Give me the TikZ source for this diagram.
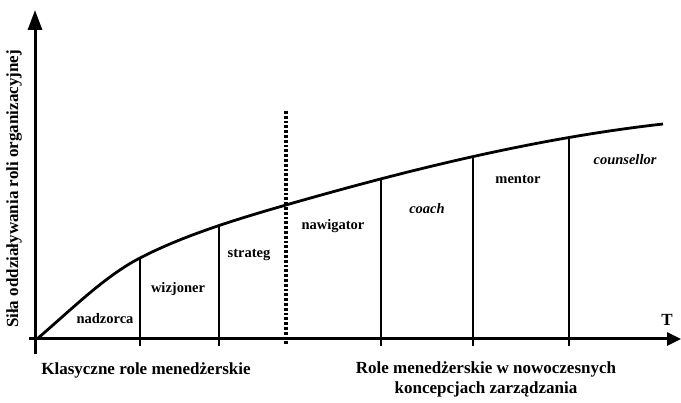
\documentclass[tikz,border=0pt]{standalone}
\usepackage{fontspec}
\setmainfont{Liberation Serif}
\usetikzlibrary{arrows.meta}
\tikzset{
  axis/.style={line width=3pt},
  curveline/.style={line width=2.8pt, line join=round},
  divider/.style={line width=1.9pt},
  sep/.style={line width=3.6pt, dash pattern=on 2.8pt off 2pt},
  role/.style={font=\fontsize{14.5}{16}\selectfont\bfseries, inner sep=0pt},
  irole/.style={font=\fontsize{14.5}{16}\selectfont\bfseries\itshape, inner sep=0pt},
  caption/.style={font=\fontsize{17}{20}\selectfont\bfseries, inner sep=0pt, align=center},
}
\begin{document}
\begin{tikzpicture}[x=1pt,y=-1pt]
\useasboundingbox (0,0) rectangle (681,403);
% axes
\coordinate (ytop) at (35,10);
\coordinate (ybot) at (35,354);
\coordinate (xl) at (29,339);
\coordinate (xr) at (681,339);
\draw[axis,-{Triangle[length=20pt,width=14pt]}] (ybot) -- (ytop);
\draw[axis,-{Triangle[length=14pt,width=13pt]}] (xl) -- (xr);
% curve points
\coordinate (c0) at (37,339);
\coordinate (c1) at (140,258);
\coordinate (c2) at (219,225.5);
\coordinate (c3) at (286,205);
\coordinate (c4) at (381,179);
\coordinate (c5) at (473,156.5);
\coordinate (c6) at (569,137.5);
\coordinate (c7) at (663,124);
\draw[curveline] (c0) .. controls (72,309) and (105,276) .. (c1)
                      .. controls (185,234.6) and (241,218) .. (c3)
                      .. controls (411,169) and (538,138) .. (c7);
% dividers
\coordinate (d1) at (140,346);
\coordinate (d2) at (219,346);
\coordinate (d4) at (381,346);
\coordinate (d5) at (473,346);
\coordinate (d6) at (569,346);
\draw[divider] (d1) -- (c1);
\draw[divider] (d2) -- (c2);
\draw[divider] (d4) -- (c4);
\draw[divider] (d5) -- (c5);
\draw[divider] (d6) -- (c6);
% separator
\coordinate (s1) at (286,111);
\coordinate (s2) at (286,344);
\draw[sep] (s1) -- (s2);
% labels
\node[role] (nadzorca) at (105,319) {nadzorca};
\node[role] (wizjoner) at (178,289) {wizjoner};
\node[role] (strateg) at (249,255) {strateg};
\node[role] (nawigator) at (333,226) {nawigator};
\node[irole] (coach) at (427,209) {coach};
\node[role] (mentor) at (518,179) {mentor};
\node[irole] (counsellor) at (625,160) {counsellor};
\node[font=\fontsize{17}{19}\selectfont\bfseries, inner sep=0pt] (T) at (667,320) {T};
\node[caption, rotate=90] (ylab) at (14,189) {Siła oddziaływania roli organizacyjnej};
\node[caption] (klas) at (146,370) {Klasyczne role menedżerskie};
\node[caption] (nowe) at (486,379) {Role menedżerskie w nowoczesnych\\koncepcjach zarządzania};
\end{tikzpicture}
\end{document}
